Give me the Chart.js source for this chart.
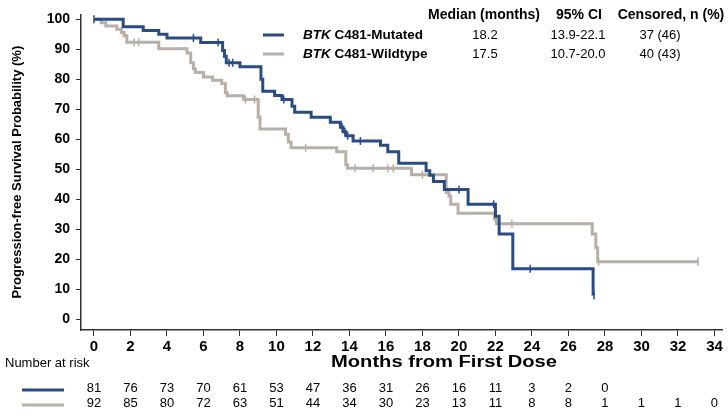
<!DOCTYPE html>
<html>
<head>
<meta charset="utf-8">
<script src="https://cdn.jsdelivr.net/npm/chart.js@4"></script>
<style>
  body { margin: 0; background: #fff; }
  canvas { display: block; }
</style>
</head>
<body>
<canvas id="km" width="728" height="416"></canvas>
<script>
// Kaplan-Meier step points (month of event, survival % after the event)
const mutTimes = [0, 1.6, 2.7, 3.55, 4.0, 5.85, 7.05, 7.15, 7.25, 8.0, 9.15, 9.25, 9.9, 10.3, 10.85, 11.0, 11.9, 12.95, 13.5, 13.65, 13.8, 14.2, 15.7, 16.1, 16.7, 18.2, 18.4, 18.6, 19.2, 20.5, 22.0, 22.2, 22.95, 27.35];
const mutSurv  = [100, 97.5, 96.3, 95.0, 93.8, 92.3, 89.6, 87.7, 85.5, 84.2, 80.0, 76.0, 74.6, 73.3, 71.0, 69.0, 67.3, 65.7, 64.0, 62.5, 61.2, 59.4, 58.0, 55.8, 52.0, 49.5, 48.0, 45.9, 43.2, 38.3, 34.3, 28.4, 16.8, 7.9];
const wtTimes = [0, 0.4, 0.65, 1.25, 1.5, 1.65, 1.8, 3.55, 5.1, 5.3, 5.45, 5.55, 6.0, 6.5, 7.0, 7.2, 7.3, 8.2, 9.0, 9.1, 10.5, 10.65, 10.8, 13.3, 13.8, 13.9, 17.4, 19.3, 19.45, 19.55, 19.95, 21.95, 22.05, 27.3, 27.5, 27.6, 33.1];
const wtSurv  = [100, 98.9, 97.8, 96.7, 95.6, 94.5, 92.4, 90.2, 88.8, 85.5, 83.5, 82.3, 80.8, 79.7, 78.6, 75.5, 74.5, 73.3, 67.3, 63.4, 61.7, 59.1, 57.2, 55.8, 51.5, 50.3, 48.2, 42.2, 41.0, 38.3, 35.3, 33.5, 31.8, 28.4, 23.8, 19.1, 19.1];

// censoring times (marks sit on the curve)
const mutCensor = [0, 5.45, 6.8, 7.4, 7.6, 10.4, 13.6, 13.75, 13.9, 14.6, 20.0, 21.9, 23.9, 27.4];
const wtCensor  = [2.2, 2.45, 8.3, 8.8, 11.6, 14.3, 15.3, 16.1, 16.4, 18.0, 22.0, 22.9, 27.65, 33.1];

const xTicks = [0, 2, 4, 6, 8, 10, 12, 14, 16, 18, 20, 22, 24, 26, 28, 30, 32, 34];
const yTicks = [0, 10, 20, 30, 40, 50, 60, 70, 80, 90, 100];

const riskMonths = [0, 2, 4, 6, 8, 10, 12, 14, 16, 18, 20, 22, 24, 26, 28, 30, 32, 34];
const mutRisk = [81, 76, 73, 70, 61, 53, 47, 36, 31, 26, 16, 11, 3, 2, 0];
const wtRisk  = [92, 85, 80, 72, 63, 51, 44, 34, 30, 23, 13, 11, 8, 8, 1, 1, 1, 0];

const seriesNames = ['C481-Mutated', 'C481-Wildtype'];
const medians = ['18.2', '17.5'];
const cis = ['13.9-22.1', '10.7-20.0'];
const censored = ['37 (46)', '40 (43)'];

const BLUE = '#2a4c82';
const GRAY = '#b8afa6';
const NARROW = '"Liberation Sans Narrow", "Liberation Sans", Arial, sans-serif';
const SANS = '"Liberation Sans", Arial, sans-serif';

function survAt(times, surv, t) {
    let s = surv[0];
    for (let i = 0; i < times.length; i++) {
        if (times[i] <= t) s = surv[i];
    }
    return s;
}

const pts = (ts, ss) => ts.map((t, i) => ({ x: t, y: ss[i] }));
const censorPts = (cs, ts, ss) => cs.map(t => ({ x: t, y: survAt(ts, ss, t) }));

// legend table, axis titles and number-at-risk table
const extras = {
    id: 'extras',
    afterDraw(chart) {
        const ctx = chart.ctx;
        const x = chart.scales.x;
        const area = chart.chartArea;
        ctx.save();
        ctx.fillStyle = '#000';
        ctx.textBaseline = 'middle';

        // y title
        ctx.save();
        ctx.translate(17, (area.top + area.bottom) / 2);
        ctx.rotate(-Math.PI / 2);
        ctx.textAlign = 'center';
        ctx.font = 'bold 13px ' + SANS;
        ctx.fillText('Progression-free Survival Probability (%)', 0, 0);
        ctx.restore();

        // x title (the original face is a little wider than ours)
        ctx.save();
        ctx.font = 'bold 16px ' + SANS;
        ctx.textAlign = 'center';
        const tw = ctx.measureText('Months from First Dose').width;
        ctx.translate(444, 363);
        ctx.scale(226 / tw, 1);
        ctx.fillText('Months from First Dose', 0, 0);
        ctx.restore();

        // legend header
        ctx.textAlign = 'center';
        ctx.font = 'bold 14px ' + SANS;
        ctx.fillText('Median (months)', 484, 15);
        ctx.fillText('95% CI', 579, 15);
        ctx.fillText('Censored, n (%)', 671, 15);

        const rows = [35, 54];
        const cols = [BLUE, GRAY];
        rows.forEach((ry, i) => {
            ctx.strokeStyle = cols[i];
            ctx.lineWidth = 3;
            ctx.beginPath();
            ctx.moveTo(263, ry);
            ctx.lineTo(284, ry);
            ctx.stroke();
            ctx.textAlign = 'left';
            ctx.font = 'italic bold 13.5px ' + SANS;
            ctx.fillText('BTK', 303, ry);
            const w = ctx.measureText('BTK ').width;
            ctx.font = 'bold 13.5px ' + SANS;
            ctx.fillText(seriesNames[i], 303 + w, ry);
            ctx.textAlign = 'center';
            ctx.font = '13px ' + SANS;
            ctx.fillText(medians[i], 485, ry);
            ctx.fillText(cis[i], 578, ry);
            ctx.fillText(censored[i], 660, ry);
        });

        // number at risk
        ctx.textAlign = 'left';
        ctx.font = '13px ' + NARROW;
        ctx.fillText('Number at risk', 5, 363);
        [[mutRisk, 388, BLUE], [wtRisk, 403, GRAY]].forEach(([vals, ry, c]) => {
            ctx.strokeStyle = c;
            ctx.lineWidth = 3;
            ctx.beginPath();
            ctx.moveTo(22, ry + 2);
            ctx.lineTo(64, ry + 2);
            ctx.stroke();
            ctx.textAlign = 'center';
            vals.forEach((v, i) => {
                ctx.fillText(String(v), x.getPixelForValue(riskMonths[i]), ry);
            });
        });
        ctx.restore();
    }
};

new Chart(document.getElementById('km'), {
    type: 'line',
    data: {
        datasets: [
            { data: pts(mutTimes, mutSurv), borderColor: BLUE, borderWidth: 3, stepped: 'before', pointRadius: 0, fill: false },
            { data: pts(wtTimes, wtSurv), borderColor: GRAY, borderWidth: 3, stepped: 'before', pointRadius: 0, fill: false },
            { data: censorPts(wtCensor, wtTimes, wtSurv), showLine: false, pointStyle: 'line', rotation: 90, pointRadius: 4, borderColor: GRAY, borderWidth: 1.5 },
            { data: censorPts(mutCensor, mutTimes, mutSurv), showLine: false, pointStyle: 'line', rotation: 90, pointRadius: 4, borderColor: BLUE, borderWidth: 1.5 }
        ]
    },
    options: {
        responsive: false,
        animation: false,
        layout: { padding: { top: 11, right: 2, left: 0, bottom: 0 } },
        plugins: { legend: { display: false }, tooltip: { enabled: false } },
        scales: {
            x: {
                type: 'linear',
                min: -0.71,
                max: 34.44,
                afterFit: s => { s.height = 86; },
                afterBuildTicks: s => { s.ticks = xTicks.map(v => ({ value: v })); },
                grid: { drawOnChartArea: false, tickLength: 6, color: '#333' },
                border: { color: '#333', width: 1.5 },
                ticks: { color: '#000', font: { family: NARROW, size: 15, weight: 'bold' }, padding: 2, maxRotation: 0 }
            },
            y: {
                min: -3.63,
                max: 101.65,
                afterFit: s => { s.width = 81; },
                afterBuildTicks: s => { s.ticks = yTicks.map(v => ({ value: v })); },
                grid: { drawOnChartArea: false, tickLength: 5, color: '#333' },
                border: { color: '#333', width: 1.5 },
                ticks: { color: '#000', font: { family: NARROW, size: 14, weight: 'bold' }, padding: 6 }
            }
        }
    },
    plugins: [extras]
});
</script>
</body>
</html>
